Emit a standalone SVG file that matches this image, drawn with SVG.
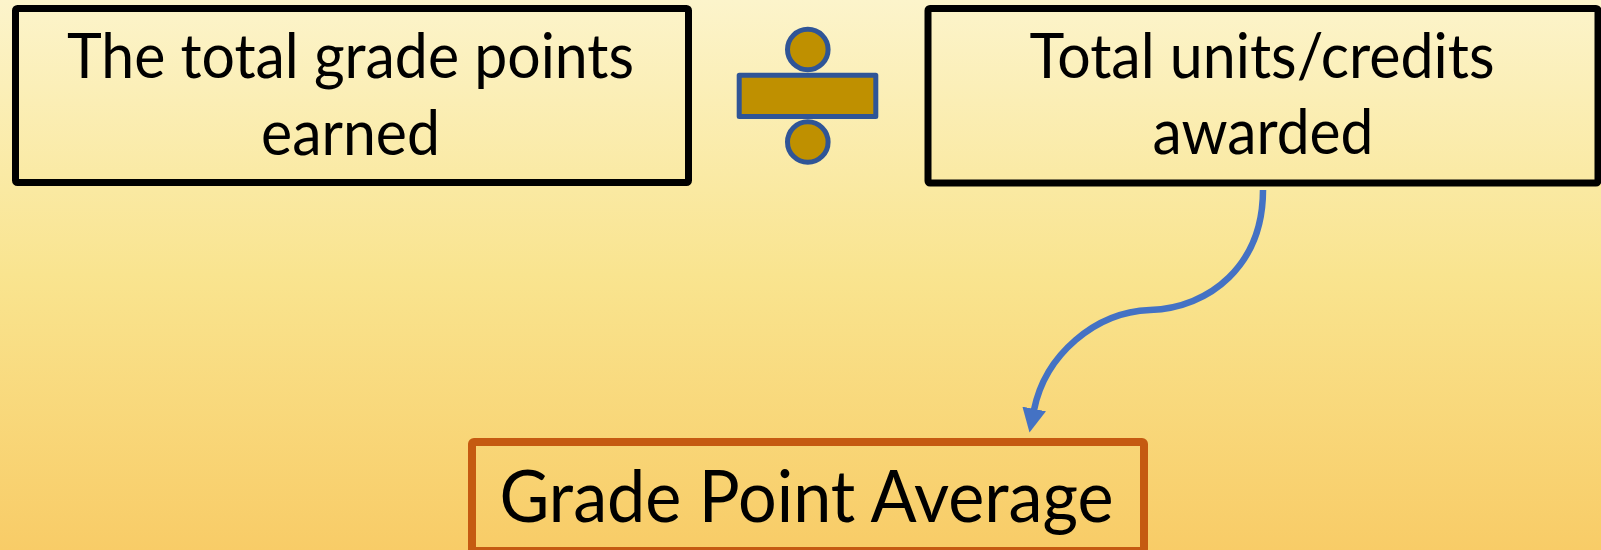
<svg xmlns="http://www.w3.org/2000/svg" width="1601" height="550" viewBox="0 0 1601 550">
<defs>
<linearGradient id="bg" x1="0" y1="0" x2="0" y2="550" gradientUnits="userSpaceOnUse">
<stop offset="0" stop-color="#FCF4CB"/>
<stop offset="0.5" stop-color="#F9E48F"/>
<stop offset="1" stop-color="#F8CC67"/>
</linearGradient>
<marker id="arrow" viewBox="0 0 24 24" markerUnits="userSpaceOnUse" markerWidth="24" markerHeight="24" refX="1" refY="12" orient="auto">
<path d="M0,0 L24,12 L0,24 z" fill="#4472C4"/>
</marker>
<style>
.box{fill:none;stroke:#000;stroke-width:7;stroke-linejoin:round}
.res{fill:none;stroke:#C55A11;stroke-width:8;stroke-linejoin:round}
.lbl{font-family:Lato,"Open Sans",sans-serif;font-size:62px;fill:#000;text-anchor:middle}
.big{font-size:72px}
.div{fill:#BF9000;stroke:#2F5597;stroke-width:5;stroke-linejoin:round}
.conn{fill:none;stroke:#4472C4;stroke-width:6.5}
</style>
</defs>
<rect x="0" y="0" width="1601" height="550" fill="url(#bg)"/>
<g id="node-points">
<rect class="box" x="15.5" y="8.5" width="673" height="174" rx="2"/>
<text class="lbl" x="350.5" y="78" textLength="567" lengthAdjust="spacingAndGlyphs">The total grade points</text>
<text class="lbl" x="350.5" y="155" textLength="179" lengthAdjust="spacingAndGlyphs">earned</text>
</g>
<g id="node-divide">
<circle class="div" cx="807.8" cy="49.5" r="20.3"/>
<rect class="div" x="739.2" y="75.2" width="136.6" height="41.3"/>
<circle class="div" cx="807.8" cy="142" r="20.3"/>
</g>
<g id="node-units">
<rect class="box" x="928" y="8.5" width="670" height="174.5" rx="2"/>
<text class="lbl" x="1262" y="77.5" textLength="465" lengthAdjust="spacingAndGlyphs">Total units/credits</text>
<text class="lbl" x="1263" y="154" textLength="221" lengthAdjust="spacingAndGlyphs">awarded</text>
</g>
<g id="node-gpa">
<rect class="res" x="472" y="442" width="672" height="109" rx="2"/>
<text class="lbl big" x="806.5" y="521.7" textLength="614" lengthAdjust="spacingAndGlyphs">Grade Point Average</text>
</g>
<g id="connectors">
<path class="conn" d="M1263,190 C1263,265 1210,308 1150,310 C1095,312 1045,355 1034,410" marker-end="url(#arrow)"/>
</g>
</svg>
